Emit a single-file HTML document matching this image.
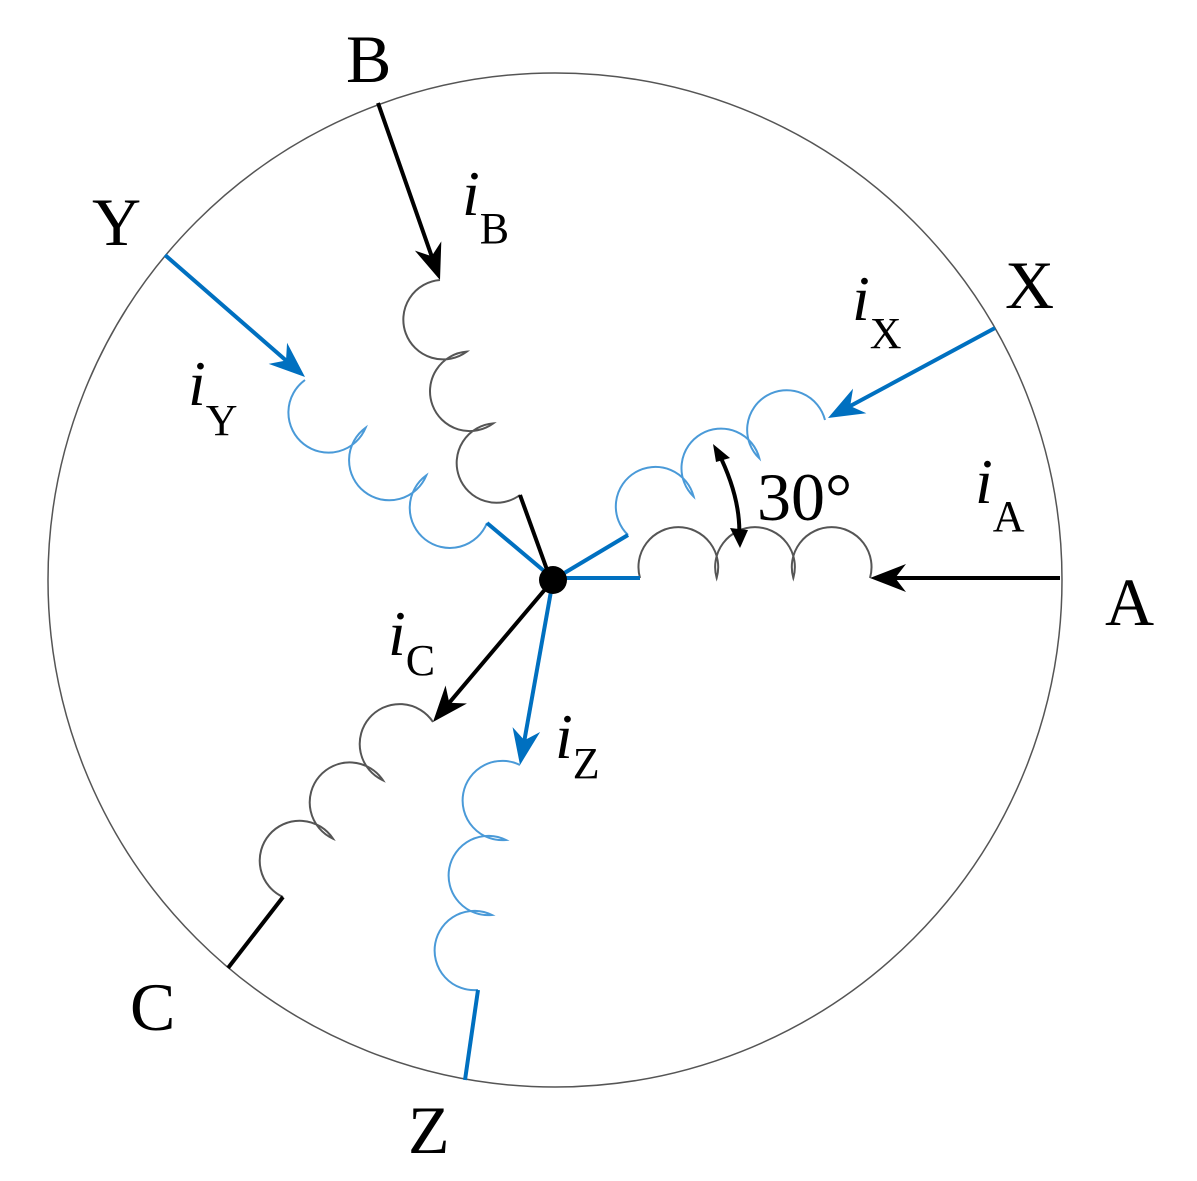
<!DOCTYPE html>
<html><head><meta charset="utf-8">
<style>
html,body{margin:0;padding:0;background:#fff;}
svg{display:block;}
svg text{font-family:"Liberation Serif","Times New Roman",serif;fill:#000;}
.L{font-size:68px;}
.c{font-size:64px;font-style:italic;}
.s{font-size:44px;font-style:normal;}
</style></head><body>
<svg id="s" width="1197" height="1181" viewBox="0 0 1197 1181" xmlns="http://www.w3.org/2000/svg" font-family="Liberation Serif, serif">
<circle cx="555" cy="580" r="507" fill="none" stroke="#555" stroke-width="1.5"/>
<g id="g"></g>
<circle cx="553" cy="580" r="14" fill="#000"/>
<path d="M718,452 Q742,500 739,540" fill="none" stroke="#000" stroke-width="4"/>
<polygon points="713,444 730,458 716,462" fill="#000"/>
<polygon points="740,548 730,528 748,530" fill="#000"/>
<text class="L" x="346" y="82" font-family="Liberation Serif, serif">B</text>
<text class="L" x="92" y="245" font-family="Liberation Serif, serif">Y</text>
<text class="L" x="1005" y="308" font-family="Liberation Serif, serif">X</text>
<text class="L" x="1105" y="625" font-family="Liberation Serif, serif">A</text>
<text class="L" x="130" y="1030" font-family="Liberation Serif, serif">C</text>
<text class="L" x="408" y="1153" font-family="Liberation Serif, serif">Z</text>
<text class="L" x="757" y="520" font-family="Liberation Serif, serif">30°</text>
<text class="c" x="462" y="215" font-family="Liberation Serif, serif">i<tspan class="s" dy="28">B</tspan></text>
<text class="c" x="188" y="405" font-family="Liberation Serif, serif">i<tspan class="s" dy="30">Y</tspan></text>
<text class="c" x="852" y="320" font-family="Liberation Serif, serif">i<tspan class="s" dy="28">X</tspan></text>
<text class="c" x="975" y="503" font-family="Liberation Serif, serif">i<tspan class="s" dy="28">A</tspan></text>
<text class="c" x="388" y="655" font-family="Liberation Serif, serif">i<tspan class="s" dy="20">C</tspan></text>
<text class="c" x="555" y="758" font-family="Liberation Serif, serif">i<tspan class="s" dy="20">Z</tspan></text>
</svg>
<script>
const B='#0070c0',LB='#4a9ad8',G='#555',K='#000';
const g=document.getElementById('g');let h='';
function line(a,b,c,col){h+=`<line x1="${a[0]}" y1="${a[1]}" x2="${b[0]}" y2="${b[1]}" stroke="${col}" stroke-width="4"/>`;}
function arrow(from,tip,col){let dx=tip[0]-from[0],dy=tip[1]-from[1],l=Math.hypot(dx,dy),ux=dx/l,uy=dy/l;
 let L=36,W=14;let bx=tip[0]-ux*L,by=tip[1]-uy*L;
 line(from,[tip[0]-ux*20,tip[1]-uy*20],0,col);
 h+=`<polygon points="${tip[0]},${tip[1]} ${bx+uy*W},${by-ux*W} ${tip[0]-ux*L*0.7},${tip[1]-uy*L*0.7} ${bx-uy*W},${by+ux*W}" fill="${col}"/>`;}
function coil(P,Q,d,col){let dx=Q[0]-P[0],dy=Q[1]-P[1],l=Math.hypot(dx,dy),ux=dx/l,uy=dy/l;
 let nx=uy,ny=-ux;let sw=(nx*d[0]+ny*d[1])>0?1:0;let w=l/3;
 let p=`M${P[0]},${P[1]}`;
 for(let i=0;i<3;i++){let ex=P[0]+ux*w*(i+1),ey=P[1]+uy*w*(i+1);
  p+=` A${w*0.52},${w*0.52} 0 1 ${sw} ${ex},${ey}`;}
 h+=`<path d="${p}" fill="none" stroke="${col}" stroke-width="2"/>`;}
const C=[553,580];
arrow([1060,578],[870,578],K);coil([640,578],[870,578],[0,-1],G);line([560,578],[640,578],0,B);
arrow([995,328],[828,418],B);coil([628,535],[825,420],[0,-1],LB);line([556,578],[628,535],0,B);
arrow([378,103],[440,280],K);coil([520,495],[440,280],[-1,0],G);line([520,495],[550,578],0,K);
arrow([165,255],[305,377],B);coil([487,523],[305,380],[-1,1],LB);line([487,523],[550,576],0,B);
arrow(C,[433,722],K);coil([433,722],[283,897],[-1,-1],G);line([283,897],[228,968],0,K);
arrow(C,[520,765],B);coil([520,765],[478,990],[-1,0],LB);line([478,990],[465,1080],0,B);
g.innerHTML=h;
</script>
</body></html>
